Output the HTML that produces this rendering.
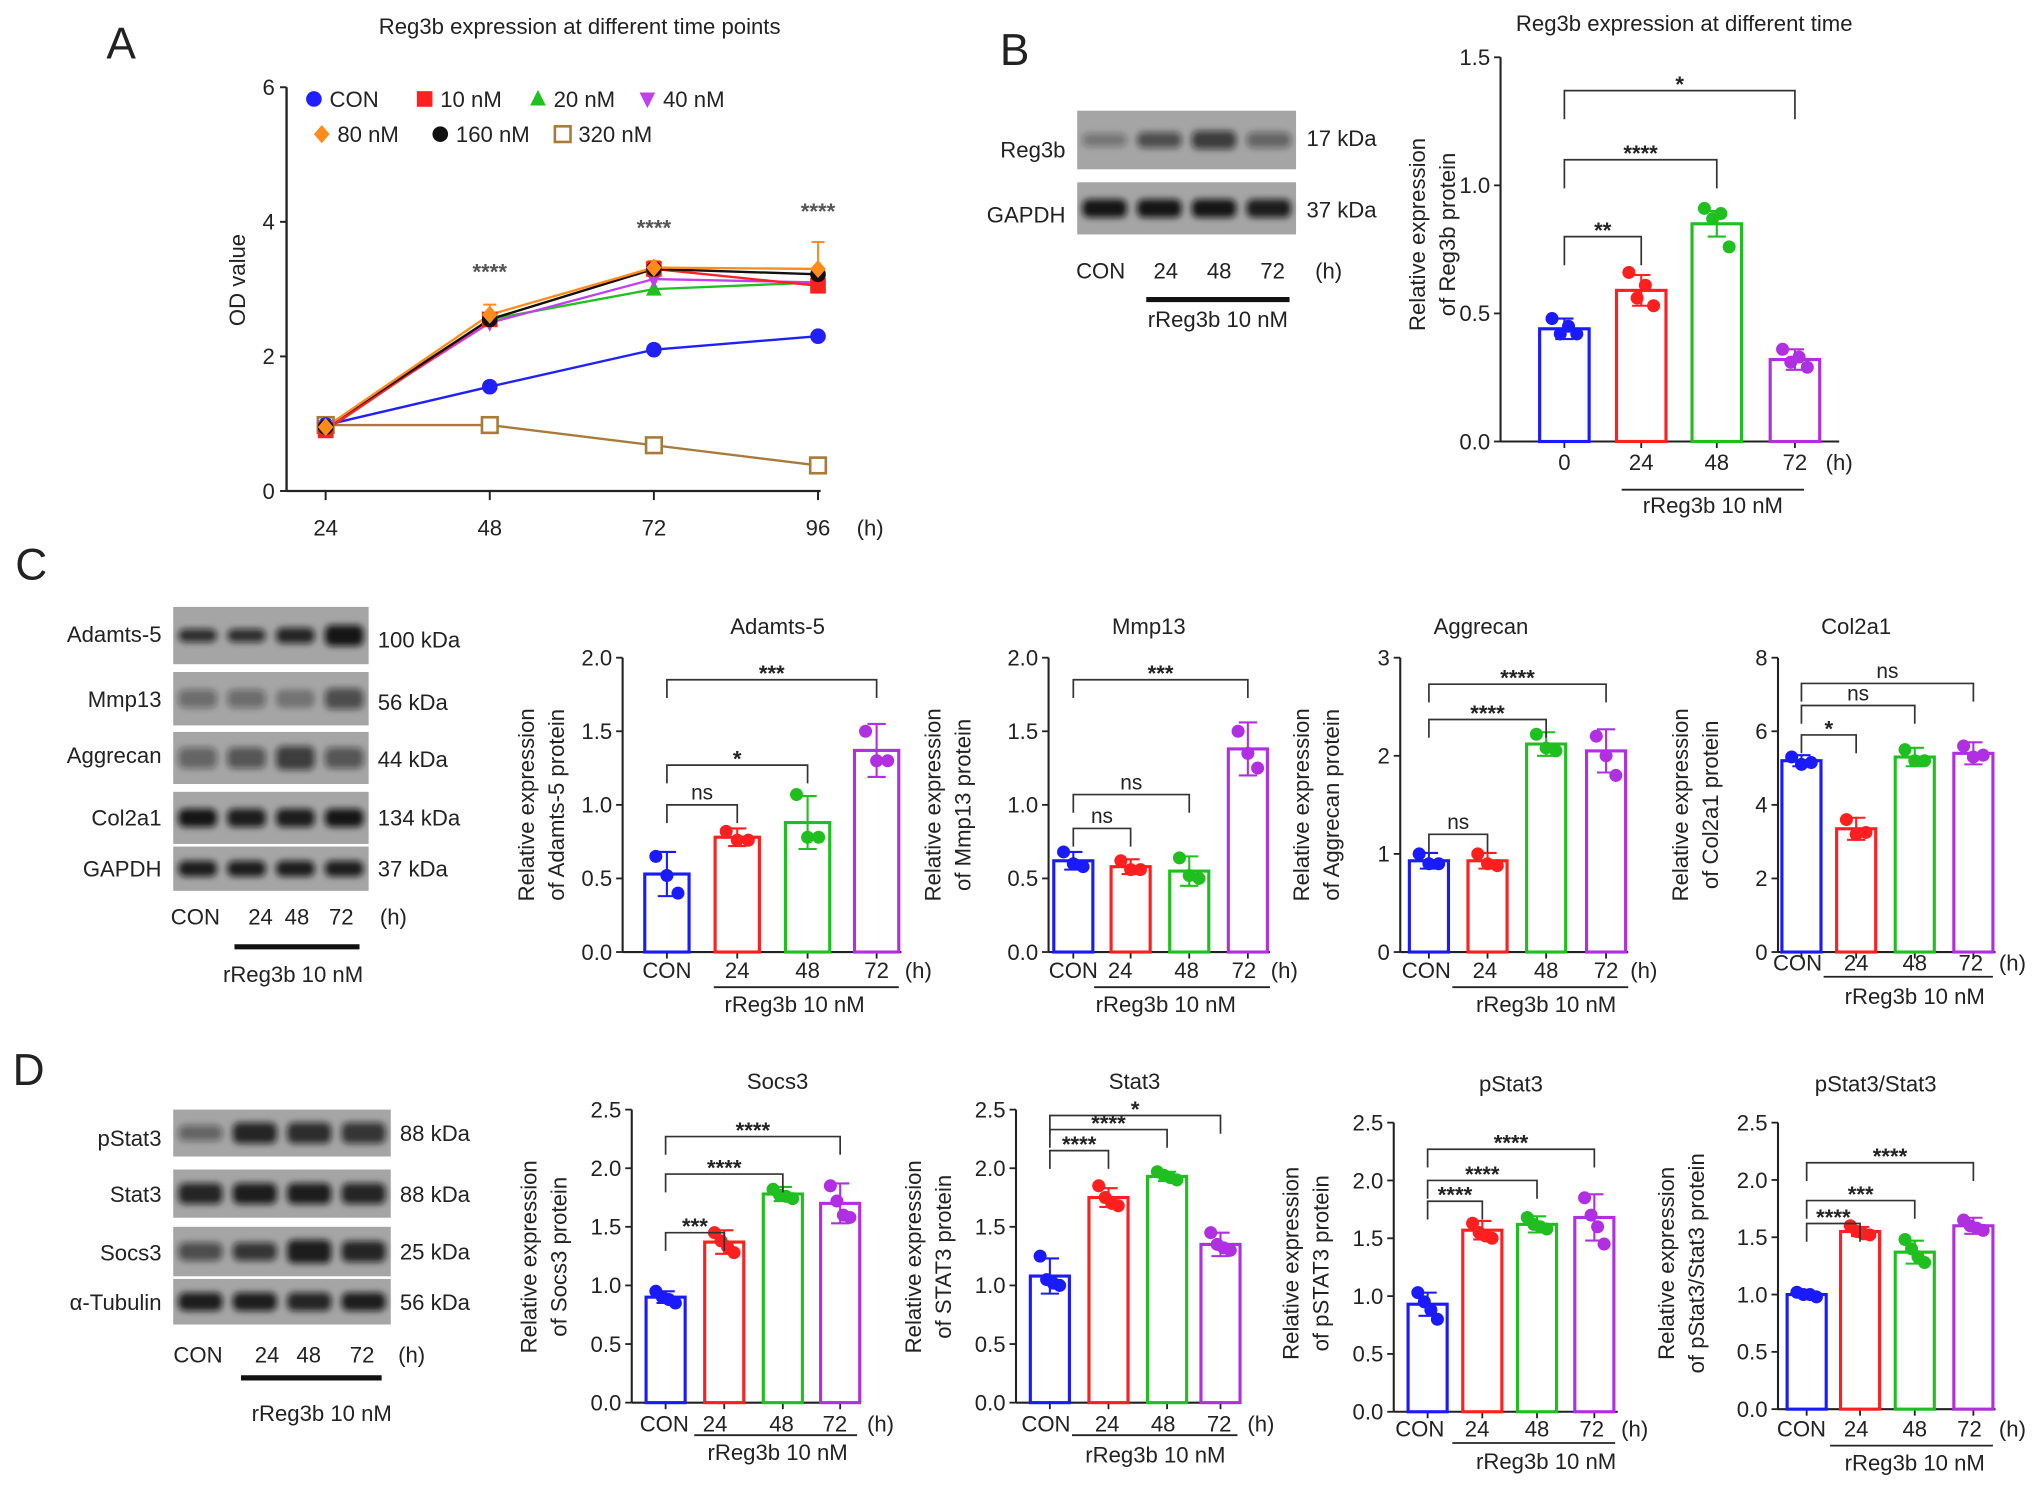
<!DOCTYPE html>
<html><head><meta charset="utf-8"><style>
html,body{margin:0;padding:0;background:#fff}
svg{display:block;font-family:"Liberation Sans",Arial,sans-serif}
</style></head><body>
<svg id="fig" width="2032" height="1486" viewBox="0 0 1560 1141" preserveAspectRatio="none" xmlns="http://www.w3.org/2000/svg">
<defs><filter id="blur" x="-20%" y="-50%" width="140%" height="200%"><feGaussianBlur stdDeviation="2.5"/></filter></defs>
</svg>
<script>
const NS='http://www.w3.org/2000/svg';
const svg=document.getElementById('fig');
function mk(tag,attrs,parent){const e=document.createElementNS(NS,tag);for(const k in attrs)e.setAttribute(k,attrs[k]);(parent||svg).appendChild(e);return e;}
function txt(x,y,s,size,anchor,parent,rot,weight){const t=mk('text',{x:x,y:y,'font-size':size||17,'text-anchor':anchor||'middle',fill:'#222'},parent);if(rot)t.setAttribute('transform','rotate(-90 '+x+' '+y+')');if(weight)t.setAttribute('font-weight',weight);t.textContent=s;return t;}
const COL=['#1a1aff','#ff1f1f','#1fbf1f','#b02fe0'];

/* ===== Panel A data ===== */
const aTimes=['24','48','72','96'];
const aSeriesNames=['CON','10 nM','20 nM','40 nM','80 nM','160 nM','320 nM'];
const aCON=[0.98,1.55,2.1,2.3];
const a10=[0.9,2.55,3.3,3.05];
const a20=[0.95,2.55,3.0,3.1];
const a40=[0.95,2.5,3.15,3.1];
const a80=[0.95,2.62,3.32,3.3];
const a160=[0.95,2.55,3.3,3.22];
const a320=[0.98,0.98,0.68,0.38];
const a80err=[0.05,0.15,0.1,0.4];
const aYTicks=[0,2,4,6];
const aStars=[3.3,3.95,4.2];

/* ===== Panel B data ===== */
const bCats=['0','24','48','72'];
const bMeans=[0.44,0.59,0.85,0.32];
const bErrs=[0.04,0.06,0.05,0.04];
const bPts=[[0.48,0.42,0.45,0.42],[0.66,0.56,0.61,0.53],[0.91,0.87,0.89,0.76],[0.36,0.31,0.33,0.29]];
const bTicks=['0.0','0.5','1.0','1.5'];

/* ===== Panel C data ===== */
const cAdamMeans=[0.53,0.78,0.88,1.37];
const cAdamErrs=[0.15,0.06,0.18,0.18];
const cAdamPts=[[0.65,0.52,0.4],[0.82,0.76,0.76],[1.07,0.78,0.78],[1.5,1.3,1.3]];
const cMmpMeans=[0.62,0.58,0.55,1.38];
const cMmpErrs=[0.06,0.05,0.1,0.18];
const cMmpPts=[[0.68,0.6,0.58],[0.62,0.56,0.56],[0.64,0.52,0.5],[1.5,1.35,1.25]];
const cAggMeans=[0.93,0.93,2.12,2.05];
const cAggErrs=[0.08,0.08,0.12,0.22];
const cAggPts=[[1.0,0.9,0.9],[1.0,0.9,0.88],[2.22,2.08,2.05],[2.2,2.0,1.8]];
const cColMeans=[5.2,3.35,5.3,5.4];
const cColErrs=[0.15,0.3,0.25,0.3];
const cColPts=[[5.3,5.1,5.15],[3.6,3.2,3.25],[5.5,5.2,5.2],[5.6,5.3,5.35]];

/* ===== Panel D data ===== */
const dSocMeans=[0.9,1.37,1.78,1.7];
const dSocErrs=[0.05,0.1,0.06,0.17];
const dSocPts=[[0.95,0.9,0.88,0.85],[1.45,1.38,1.33,1.28],[1.82,1.77,1.76,1.74],[1.85,1.72,1.6,1.58]];
const dStaMeans=[1.08,1.75,1.93,1.35];
const dStaErrs=[0.15,0.08,0.04,0.1];
const dStaPts=[[1.25,1.05,1.02,1.0],[1.85,1.75,1.7,1.68],[1.97,1.94,1.92,1.9],[1.45,1.35,1.32,1.3]];
const dpStaMeans=[0.93,1.57,1.62,1.68];
const dpStaErrs=[0.1,0.08,0.07,0.2];
const dpStaPts=[[1.03,0.95,0.88,0.8],[1.63,1.55,1.52,1.5],[1.68,1.62,1.6,1.58],[1.85,1.7,1.6,1.45]];
const dRatMeans=[1.0,1.55,1.37,1.6];
const dRatErrs=[0.02,0.04,0.1,0.07];
const dRatPts=[[1.02,1.0,1.0,0.98],[1.6,1.55,1.53,1.52],[1.48,1.4,1.33,1.28],[1.65,1.6,1.58,1.56]];

/* ===== generic bar chart ===== */
function barChart(c){
  const g=mk('g',{});
  
  
  const y=v=>c.y0-(v/c.max)*(c.y0-c.yTop);
  // title
  const t=txt(c.titleX,c.titleY,c.title,17,'middle',g);
  
  
  // y label
  const l1=txt(c.ylabX,c.ylabY,'Relative expression',17,'middle',g,true);
  
  
  const l2=txt(c.ylabX+23,c.ylabY,c.ylab2,17,'middle',g,true);
  
  
  // axes
  const ya=mk('line',{x1:c.x0,y1:c.yTop,x2:c.x0,y2:c.y0,stroke:'#222','stroke-width':1.6},g);
  
  
  const xa=mk('line',{x1:c.x0,y1:c.y0,x2:c.xEnd,y2:c.y0,stroke:'#222','stroke-width':1.6},g);
  
  
  c.ticks.forEach(tk=>{
    const v=parseFloat(tk);
    mk('line',{x1:c.x0-5,y1:y(v),x2:c.x0,y2:y(v),stroke:'#222','stroke-width':1.4},g);
    const tl=txt(c.x0-8,y(v)+6,tk,17,'end',g);
    
    
  });
  // bars
  c.means.forEach((m,i)=>{
    const cx=c.centers[i],col=COL[i];
    mk('line',{x1:cx,y1:c.y0,x2:cx,y2:c.y0+5,stroke:'#222','stroke-width':1.4},g);
    const b=mk('rect',{x:cx-c.bw/2,y:y(m),width:c.bw,height:c.y0-y(m),fill:'none',stroke:col,'stroke-width':2.4},g);
    
    
    const e=c.errs[i];
    mk('line',{x1:cx,y1:y(m+e),x2:cx,y2:y(m-e),stroke:col,'stroke-width':1.6},g);
    mk('line',{x1:cx-7,y1:y(m+e),x2:cx+7,y2:y(m+e),stroke:col,'stroke-width':1.6},g);
    mk('line',{x1:cx-7,y1:y(m-e),x2:cx+7,y2:y(m-e),stroke:col,'stroke-width':1.6},g);
    const n=c.pts[i].length;
    c.pts[i].forEach((p,k)=>{
      const off=(k-(n-1)/2)*(c.bw*0.5/(n-1));
      const dot=mk('circle',{cx:cx+off,cy:y(p),r:5,fill:col},g);
      
      
    });
  });
  // x labels
  c.xlabs.forEach((s,i)=>{
    const xl=txt(c.xlabX[i],c.xlabY,s,17,'middle',g);
    
    
  });
  const hl=txt(c.hX,c.xlabY,'(h)',17,'middle',g);
  
  
  const gl=mk('line',{x1:c.gl[0],y1:c.gl[2],x2:c.gl[1],y2:c.gl[2],stroke:'#222','stroke-width':c.glw||1.4},g);
  
  
  const gt=txt(c.gt[0],c.gt[1],'rReg3b 10 nM',17,'middle',g);
  
  
  // brackets
  c.brackets.forEach(br=>{
    const [i,j,v,lab]=br;const yy=y(v);const x1=c.centers[i],x2=c.centers[j];
    const p=mk('path',{d:`M${x1},${yy+c.drop} V${yy} H${x2} V${yy+c.drop}`,fill:'none',stroke:'#333','stroke-width':1.3},g);
    
    
    const st=txt((x1+x2)/2,yy-(lab==='ns'?4:-1),lab,lab==='ns'?16:17,'middle',g,false,lab==='ns'?null:'bold');
    
    
  });
}

/* ===== Panel labels ===== */
[['A',93,45],['B',779,50],['C',24,445],['D',22,833]].forEach(p=>{
  const t=txt(p[1],p[2],p[0],34,'middle');
  
  
});

/* ===== Panel A line chart ===== */
(function(){
  const g=mk('g',{});
  
  
  const X0=220,Y0=377,YT=67,MAX=6;
  const xs=i=>250+i*126;
  const ys=v=>Y0-(v/MAX)*(Y0-YT);
  const t=txt(445,26,'Reg3b expression at different time points',17,'middle',g);
  
  
  const yl=txt(188,215,'OD value',17,'middle',g,true);
  
  
  const ya=mk('line',{x1:X0,y1:YT,x2:X0,y2:Y0,stroke:'#222','stroke-width':1.8},g);
  
  
  const xa=mk('line',{x1:X0,y1:Y0,x2:630,y2:Y0,stroke:'#222','stroke-width':1.8},g);
  
  
  aYTicks.forEach(v=>{
    mk('line',{x1:X0-5,y1:ys(v),x2:X0,y2:ys(v),stroke:'#222','stroke-width':1.5},g);
    const tl=txt(X0-9,ys(v)+6,String(v),17,'end',g);
    
    
  });
  aTimes.forEach((s,i)=>{
    mk('line',{x1:xs(i),y1:Y0,x2:xs(i),y2:Y0+7,stroke:'#222','stroke-width':1.5},g);
    const tl=txt(xs(i),411,s,17,'middle',g);
    
    
  });
  const h=txt(668,411,'(h)',17,'middle',g);
  
  
  const series=[aCON,a10,a20,a40,a80,a160,a320];
  const cols=['#2020ff','#ff2020','#20c020','#c040f0','#ff8c1a','#111','#a87b3a'];
  const order=[6,0,2,3,1,5,4];
  // error bar on 80nM
  a80.forEach((v,i)=>{
    const e=a80err[i];
    mk('line',{x1:xs(i),y1:ys(v+e),x2:xs(i),y2:ys(v),stroke:cols[4],'stroke-width':1.5},g);
    mk('line',{x1:xs(i)-5,y1:ys(v+e),x2:xs(i)+5,y2:ys(v+e),stroke:cols[4],'stroke-width':1.5},g);
  });
  order.forEach(si=>{
    const d=series[si];
    const pl=mk('polyline',{points:d.map((v,i)=>xs(i)+','+ys(v)).join(' '),fill:'none',stroke:cols[si],'stroke-width':1.8},g);
    
    
  });
  function marker(si,x,y,parent){
    const c=cols[si];let m;
    if(si===0||si===5)m=mk('circle',{cx:x,cy:y,r:6,fill:c},parent);
    else if(si===1)m=mk('rect',{x:x-6,y:y-6,width:12,height:12,fill:c},parent);
    else if(si===2)m=mk('path',{d:`M${x},${y-7}L${x+6},${y+5}L${x-6},${y+5}Z`,fill:c},parent);
    else if(si===3)m=mk('path',{d:`M${x},${y+7}L${x+6},${y-5}L${x-6},${y-5}Z`,fill:c},parent);
    else if(si===4)m=mk('path',{d:`M${x},${y-7}L${x+6},${y}L${x},${y+7}L${x-6},${y}Z`,fill:c},parent);
    else m=mk('rect',{x:x-6,y:y-6,width:12,height:12,fill:'#fff',stroke:c,'stroke-width':2},parent);
    return m;
  }
  order.forEach(si=>{
    series[si].forEach((v,i)=>{
      const m=marker(si,xs(i),ys(v),g);
      
      
    });
  });
  [0,1,2].forEach(k=>{
    const s=txt(xs(k+1),ys(aStars[k])+8,'****',17,'middle',g,false,'bold');
    s.setAttribute('fill','#555');
    
    
  });
  const lg=mk('g',{},g);
  
  
  const lpos=[[241,76],[326,76],[413,76],[497,76],[247,103],[338,103],[432,103]];
  aSeriesNames.forEach((n,si)=>{
    const e=mk('g',{},lg);
    
    
    marker(si,lpos[si][0],lpos[si][1],e);
    txt(lpos[si][0]+12,lpos[si][1]+6,n,17,'start',e);
  });
})();

/* ===== Blots ===== */
function blot(name,x,y,w,h,bands,parent){
  const g=mk('g',{},parent);
  
  
  mk('rect',{x:x,y:y,width:w,height:h,fill:'#a5a5a5'},g);
  const lw=w/4;
  bands.forEach((b,i)=>{
    mk('rect',{x:x+i*lw+4,y:y+h/2-b[1]/2,width:lw-8,height:b[1],rx:5,fill:'#111','fill-opacity':b[0],filter:'url(#blur)'},g);
  });
}
function blotPanel(cfg){
  const g=mk('g',{});
  
  
  cfg.rows.forEach(r=>{
    blot('blot-'+r.label.toLowerCase(),cfg.x,r.y,cfg.w,r.h,r.bands,g);
    const l=txt(cfg.labX,r.ly,r.label,17,'end',g);
    
    
    const k=txt(cfg.kX,r.ky,r.kda,17,'start',g);
    
    
  });
  ['CON','24','48','72','(h)'].forEach((s,i)=>{
    const t=txt(cfg.laneX[i],cfg.laneY,s,17,'middle',g);
    
    
  });
  const ln=mk('line',{x1:cfg.line[0],y1:cfg.line[2],x2:cfg.line[1],y2:cfg.line[2],stroke:'#111','stroke-width':4},g);
  
  
  const tt=txt(cfg.tt[0],cfg.tt[1],'rReg3b 10 nM',17,'middle',g);
  
  
}
blotPanel({name:'panel-b-blot',x:827,w:168,labX:818,kX:1003,laneX:[845,895,936,977,1020],laneY:214,line:[880,990,230],tt:[935,251],
 rows:[{label:'Reg3b',y:85,h:45,ly:121,ky:112,kda:'17 kDa',bands:[[0.35,10],[0.6,12],[0.7,14],[0.45,12]]},
       {label:'GAPDH',y:140,h:40,ly:171,ky:167,kda:'37 kDa',bands:[[0.95,14],[0.95,14],[0.95,14],[0.9,14]]}]});
blotPanel({name:'panel-c-blot',x:133,w:150,labX:124,kX:290,laneX:[150,200,228,262,302],laneY:710,line:[180,276,727],tt:[225,754],
 rows:[{label:'Adamts-5',y:466,h:44,ly:493,ky:497,kda:'100 kDa',bands:[[0.8,10],[0.8,10],[0.85,12],[0.95,16]]},
       {label:'Mmp13',y:516,h:41,ly:543,ky:545,kda:'56 kDa',bands:[[0.4,14],[0.4,14],[0.3,14],[0.6,16]]},
       {label:'Aggrecan',y:562,h:40,ly:586,ky:589,kda:'44 kDa',bands:[[0.45,16],[0.55,16],[0.7,18],[0.55,16]]},
       {label:'Col2a1',y:608,h:40,ly:634,ky:634,kda:'134 kDa',bands:[[0.95,14],[0.9,14],[0.9,14],[0.95,14]]},
       {label:'GAPDH',y:650,h:34,ly:673,ky:673,kda:'37 kDa',bands:[[0.9,12],[0.9,12],[0.9,12],[0.9,12]]}]});
blotPanel({name:'panel-d-blot',x:133,w:167,labX:124,kX:307,laneX:[152,205,237,278,316],laneY:1046,line:[185,293,1058],tt:[247,1091],
 rows:[{label:'pStat3',y:852,h:36,ly:880,ky:876,kda:'88 kDa',bands:[[0.45,12],[0.85,16],[0.8,16],[0.75,16]]},
       {label:'Stat3',y:898,h:37,ly:923,ky:923,kda:'88 kDa',bands:[[0.85,16],[0.9,16],[0.9,16],[0.85,16]]},
       {label:'Socs3',y:942,h:38,ly:968,ky:967,kda:'25 kDa',bands:[[0.6,14],[0.75,14],[0.9,18],[0.85,16]]},
       {label:'\u03b1-Tubulin',y:982,h:35,ly:1006,ky:1006,kda:'56 kDa',bands:[[0.9,14],[0.9,14],[0.85,14],[0.9,14]]}]});

/* ===== Bar charts ===== */
barChart({name:'panel-b-bar-chart',title:'Reg3b expression at different time',titleX:1293,titleY:24,ylabX:1094,ylabY:180,ylab2:'of Reg3b protein',
 x0:1152,xEnd:1412,y0:339,yTop:44,max:1.5,ticks:bTicks,centers:[1201,1260,1318,1378],bw:38,means:bMeans,errs:bErrs,pts:bPts,
 xlabs:bCats,xlabX:[1201,1260,1318,1378],xlabY:361,hX:1412,gl:[1245,1385,376],gt:[1315,394],drop:22,
 brackets:[[0,1,0.8,'**'],[0,2,1.1,'****'],[0,3,1.37,'*']]});
const cx4lab=['CON','24','48','72'];
barChart({name:'chart-adamts5',title:'Adamts-5',titleX:597,titleY:487,ylabX:410,ylabY:618,ylab2:'of Adamts-5 protein',
 x0:478,xEnd:692,y0:731,yTop:505,max:2,ticks:['0.0','0.5','1.0','1.5','2.0'],centers:[512,566,620,673],bw:34,means:cAdamMeans,errs:cAdamErrs,pts:cAdamPts,
 xlabs:cx4lab,xlabX:[512,566,620,673],xlabY:751,hX:705,gl:[548,690,758],gt:[610,777],drop:14,
 brackets:[[0,1,1.0,'ns'],[0,2,1.27,'*'],[0,3,1.85,'***']]});
barChart({name:'chart-mmp13',title:'Mmp13',titleX:882,titleY:487,ylabX:722,ylabY:618,ylab2:'of Mmp13 protein',
 x0:805,xEnd:975,y0:731,yTop:505,max:2,ticks:['0.0','0.5','1.0','1.5','2.0'],centers:[824,868,913,958],bw:30,means:cMmpMeans,errs:cMmpErrs,pts:cMmpPts,
 xlabs:cx4lab,xlabX:[824,860,911,955],xlabY:751,hX:986,gl:[840,975,758],gt:[895,777],drop:14,
 brackets:[[0,1,0.84,'ns'],[0,2,1.07,'ns'],[0,3,1.85,'***']]});
barChart({name:'chart-aggrecan',title:'Aggrecan',titleX:1137,titleY:487,ylabX:1005,ylabY:618,ylab2:'of Aggrecan protein',
 x0:1075,xEnd:1250,y0:731,yTop:505,max:3,ticks:['0','1','2','3'],centers:[1097,1142,1187,1233],bw:30,means:cAggMeans,errs:cAggErrs,pts:cAggPts,
 xlabs:cx4lab,xlabX:[1095,1140,1187,1233],xlabY:751,hX:1262,gl:[1115,1250,758],gt:[1187,777],drop:14,
 brackets:[[0,1,1.2,'ns'],[0,2,2.37,'****'],[0,3,2.73,'****']]});
barChart({name:'chart-col2a1',title:'Col2a1',titleX:1425,titleY:487,ylabX:1296,ylabY:618,ylab2:'of Col2a1 protein',
 x0:1365,xEnd:1532,y0:731,yTop:505,max:8,ticks:['0','2','4','6','8'],centers:[1383,1425,1470,1515],bw:30,means:cColMeans,errs:cColErrs,pts:cColPts,
 xlabs:cx4lab,xlabX:[1380,1425,1470,1513],xlabY:745,hX:1545,gl:[1400,1530,750],gt:[1470,771],drop:14,
 brackets:[[0,1,5.9,'*'],[0,2,6.7,'ns'],[0,3,7.3,'ns']]});
const dT=['0.0','0.5','1.0','1.5','2.0','2.5'];
barChart({name:'chart-socs3',title:'Socs3',titleX:597,titleY:836,ylabX:412,ylabY:965,ylab2:'of Socs3 protein',
 x0:485,xEnd:660,y0:1077,yTop:852,max:2.5,ticks:dT,centers:[511,556,601,645],bw:30,means:dSocMeans,errs:dSocErrs,pts:dSocPts,
 xlabs:cx4lab,xlabX:[510,549,600,641],xlabY:1099,hX:676,gl:[533,658,1102],gt:[597,1121],drop:14,
 brackets:[[0,1,1.45,'***'],[0,2,1.95,'****'],[0,3,2.27,'****']]});
barChart({name:'chart-stat3',title:'Stat3',titleX:871,titleY:836,ylabX:707,ylabY:965,ylab2:'of STAT3 protein',
 x0:780,xEnd:952,y0:1077,yTop:852,max:2.5,ticks:dT,centers:[806,851,896,937],bw:30,means:dStaMeans,errs:dStaErrs,pts:dStaPts,
 xlabs:cx4lab,xlabX:[803,850,893,936],xlabY:1099,hX:968,gl:[823,950,1102],gt:[887,1123],drop:14,
 brackets:[[0,1,2.15,'****'],[0,2,2.33,'****'],[0,3,2.45,'*']]});
barChart({name:'chart-pstat3',title:'pStat3',titleX:1160,titleY:838,ylabX:997,ylabY:970,ylab2:'of pSTAT3 protein',
 x0:1070,xEnd:1242,y0:1084,yTop:862,max:2.5,ticks:dT,centers:[1096,1138,1180,1224],bw:30,means:dpStaMeans,errs:dpStaErrs,pts:dpStaPts,
 xlabs:cx4lab,xlabX:[1090,1134,1180,1222],xlabY:1103,hX:1255,gl:[1115,1240,1108],gt:[1187,1128],drop:14,
 brackets:[[0,1,1.82,'****'],[0,2,2.0,'****'],[0,3,2.27,'****']]});
barChart({name:'chart-pstat3-stat3',title:'pStat3/Stat3',titleX:1440,titleY:838,ylabX:1285,ylabY:970,ylab2:'of pStat3/Stat3 protein',
 x0:1365,xEnd:1532,y0:1082,yTop:862,max:2.5,ticks:dT,centers:[1387,1428,1470,1515],bw:30,means:dRatMeans,errs:dRatErrs,pts:dRatPts,
 xlabs:cx4lab,xlabX:[1383,1425,1470,1512],xlabY:1103,hX:1545,gl:[1405,1530,1110],gt:[1470,1129],drop:14,
 brackets:[[0,1,1.62,'****'],[0,2,1.82,'***'],[0,3,2.15,'****']]});
</script>
</body></html>
